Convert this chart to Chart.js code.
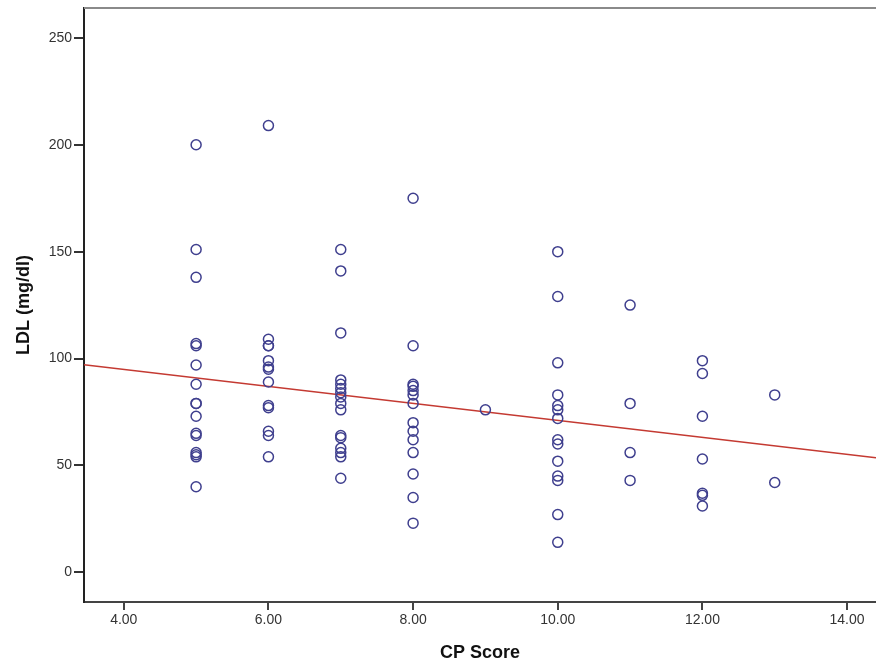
<!DOCTYPE html>
<html>
<head>
<meta charset="utf-8">
<script src="https://cdn.jsdelivr.net/npm/chart.js@4/dist/chart.umd.min.js"></script>
<style>
html,body{margin:0;padding:0;background:#fff;}
#wrap{width:876px;height:664px;}
</style>
</head>
<body>
<div id="wrap"><canvas id="c" width="876" height="664"></canvas></div>
<script>
// CP Score (x) and LDL (y) values
const cpScore = [
  5,5,5,5,5,5,5,5,5,5,5,5,5,5,5,5,
  6,6,6,6,6,6,6,6,6,6,6,6,6,
  7,7,7,7,7,7,7,7,7,7,7,7,7,7,7,7,
  8,8,8,8,8,8,8,8,8,8,8,8,8,8,
  9,
  10,10,10,10,10,10,10,10,10,10,10,10,10,10,
  11,11,11,11,
  12,12,12,12,12,12,12,
  13,13
];
const ldl = [
  200,151,138,107,106,97,88,79,79,73,65,64,56,55,54,40,
  209,109,106,106,99,96,95,89,78,77,66,64,54,
  151,141,112,90,88,86,84,82,79,76,64,63,58,56,54,44,
  175,106,88,87,85,83,79,70,66,62,56,46,35,23,
  76,
  150,129,98,83,78,76,72,62,60,52,45,43,27,14,
  125,79,56,43,
  99,93,73,53,37,36,31,
  83,42
];
// Fit line end points
const fitX = [3.45, 14.4];
const fitY = [97.1, 53.6];
// Axis ticks and ranges
const xTicks = [4, 6, 8, 10, 12, 14];
const yTicks = [0, 50, 100, 150, 200, 250];
const xRange = [3.45, 14.4];
const yRange = [-13.9, 264];

const pts = cpScore.map((x, i) => ({x: x, y: ldl[i]}));
const fit = fitX.map((x, i) => ({x: x, y: fitY[i]}));

const topBorder = {
  id: 'topBorder',
  afterDatasetsDraw(chart) {
    const a = chart.chartArea, ctx = chart.ctx;
    ctx.save();
    ctx.strokeStyle = '#8a8a8a';
    ctx.lineWidth = 2;
    ctx.beginPath();
    ctx.moveTo(a.left, a.top);
    ctx.lineTo(a.right, a.top);
    ctx.stroke();
    ctx.restore();
  }
};

const tickFont = {family: 'Liberation Sans, Arial, sans-serif', size: 14};
const titleFont = {family: 'Liberation Sans, Arial, sans-serif', size: 18, weight: 'bold'};

new Chart(document.getElementById('c'), {
  type: 'scatter',
  data: {
    datasets: [
      {
        type: 'line',
        data: fit,
        borderColor: '#c43a32',
        borderWidth: 1.4,
        pointRadius: 0,
        fill: false,
        order: 2
      },
      {
        data: pts,
        pointStyle: 'circle',
        pointRadius: 5,
        pointBorderWidth: 1.5,
        pointBorderColor: '#3f3f8e',
        pointBackgroundColor: 'rgba(0,0,0,0)',
        order: 1
      }
    ]
  },
  options: {
    responsive: false,
    animation: false,
    events: [],
    layout: {autoPadding: false, padding: {top: 8, right: 0, left: 0, bottom: 0}},
    plugins: {legend: {display: false}, tooltip: {enabled: false}},
    scales: {
      x: {
        type: 'linear',
        min: xRange[0],
        max: xRange[1],
        afterBuildTicks: s => { s.ticks = xTicks.map(v => ({value: v})); },
        afterFit: s => { s.height = 62; s.paddingLeft = 0; s.paddingRight = 0; },
        ticks: {
          font: tickFont,
          color: '#333',
          padding: 2,
          maxRotation: 0,
          callback: v => Number(v).toFixed(2)
        },
        grid: {drawOnChartArea: false, drawTicks: true, tickLength: 8, color: '#444', lineWidth: 2},
        border: {display: true, color: '#444', width: 2},
        title: {display: true, text: 'CP Score', font: titleFont, color: '#111', padding: {top: 0, bottom: 0}}
      },
      y: {
        type: 'linear',
        min: yRange[0],
        max: yRange[1],
        afterBuildTicks: s => { s.ticks = yTicks.map(v => ({value: v})); },
        afterFit: s => { s.width = 84; s.paddingTop = 0; s.paddingBottom = 0; },
        ticks: {font: tickFont, color: '#333', padding: 2},
        grid: {drawOnChartArea: false, drawTicks: true, tickLength: 10, color: '#333', lineWidth: 2},
        border: {display: true, color: '#222', width: 2},
        title: {display: true, text: 'LDL (mg/dl)', font: titleFont, color: '#111', padding: {top: 13, bottom: 0}}
      }
    }
  },
  plugins: [topBorder]
});
</script>
</body>
</html>
